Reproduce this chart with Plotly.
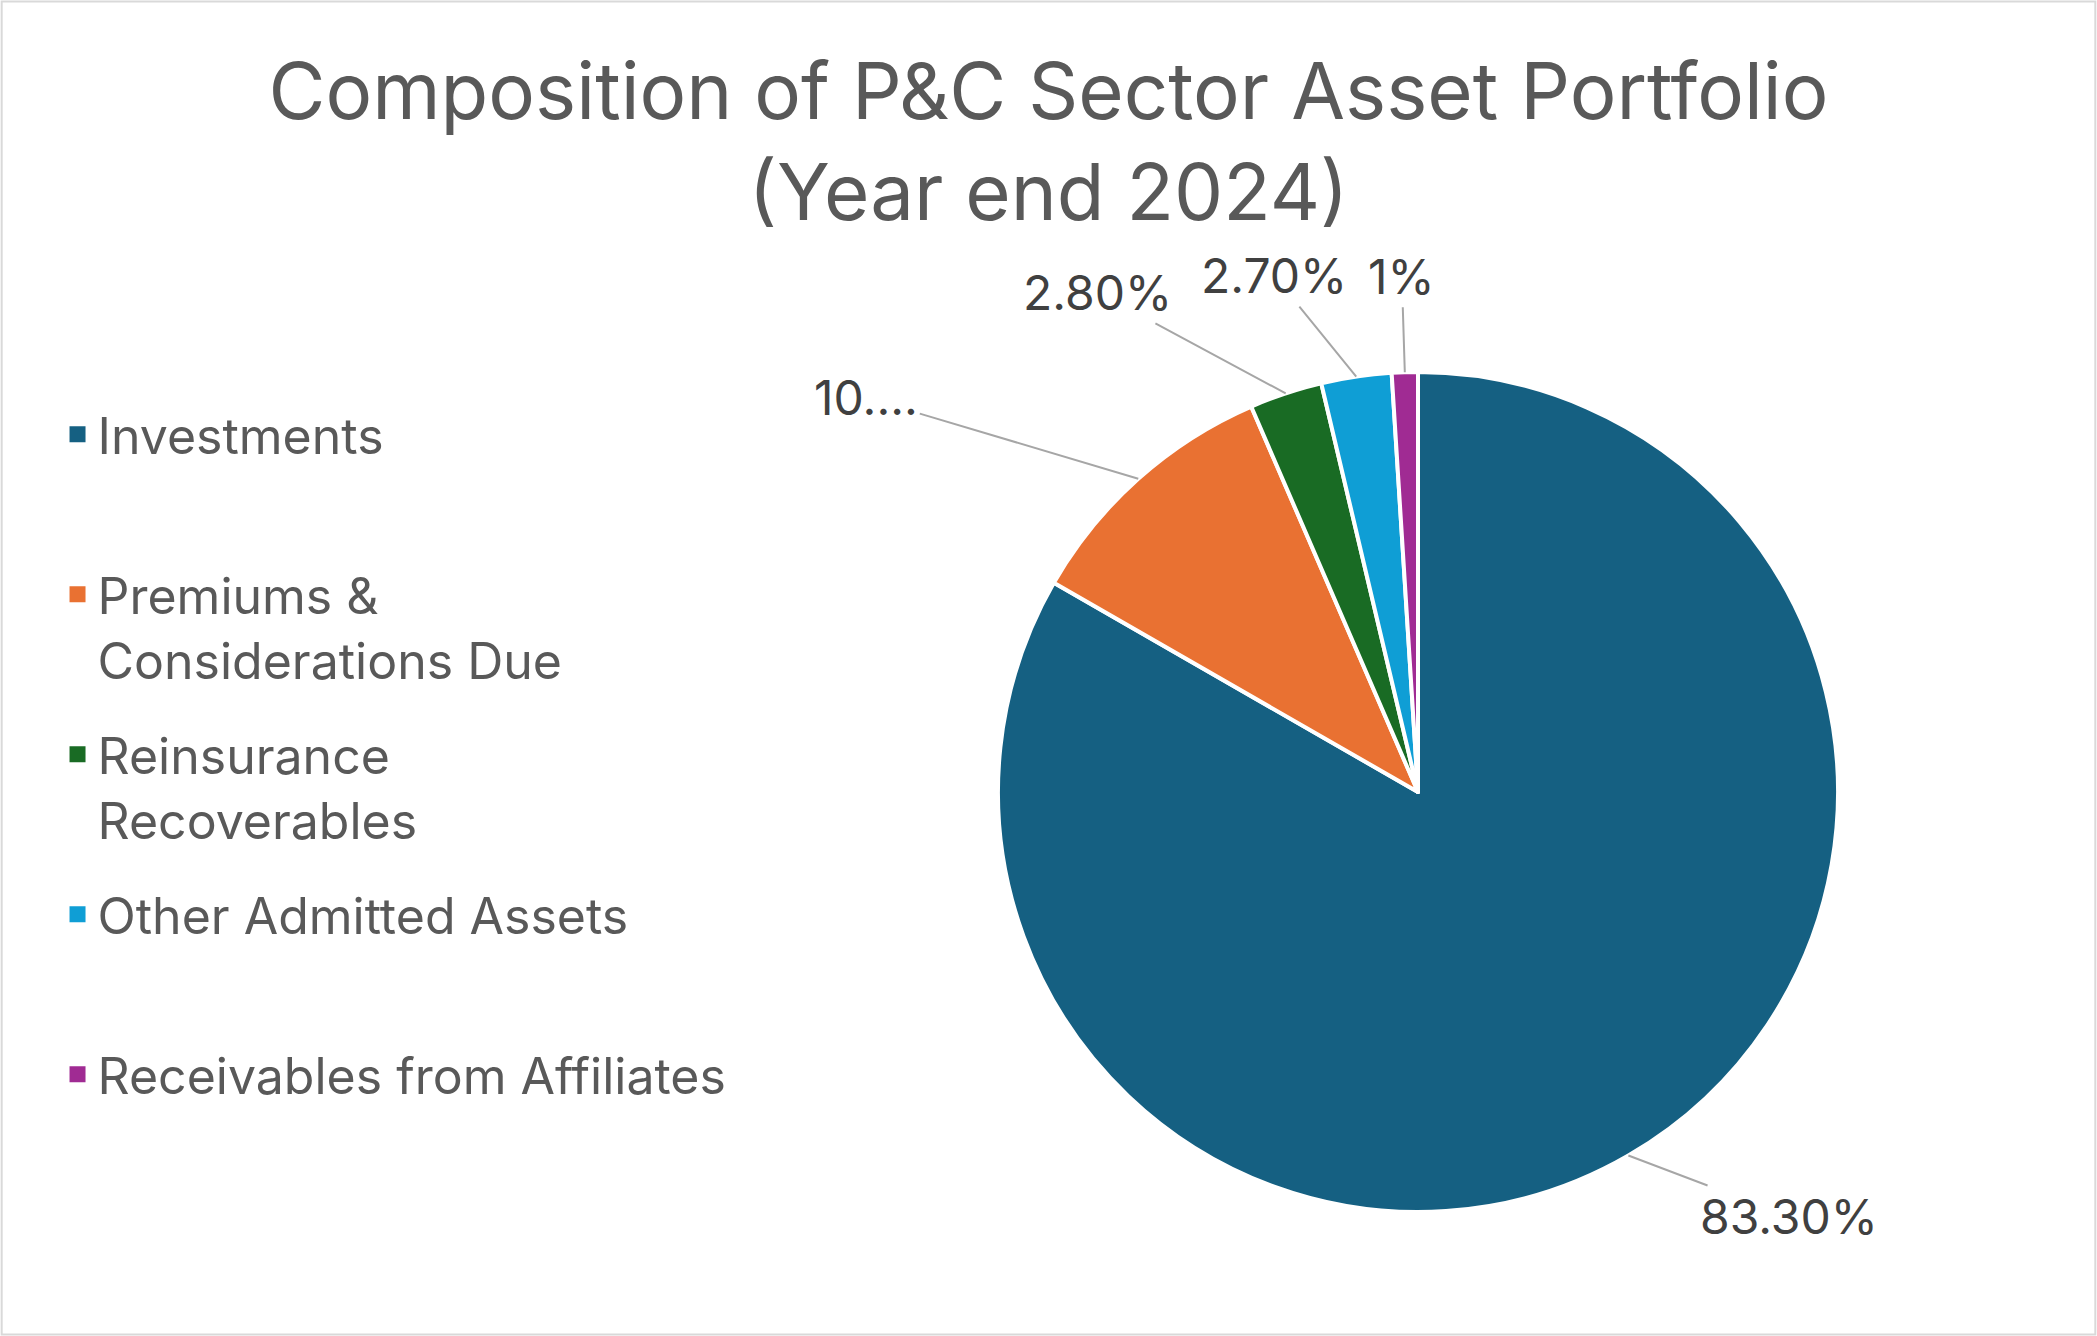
import math

import plotly.graph_objects as go

# slice data, clockwise from 12 o'clock
categories = [
    "Investments",
    "Premiums & Considerations Due",
    "Reinsurance Recoverables",
    "Other Admitted Assets",
    "Receivables from Affiliates",
]
legend_names = [
    "Investments",
    "Premiums &<br>Considerations Due",
    "Reinsurance<br>Recoverables",
    "Other Admitted Assets",
    "Receivables from Affiliates",
]
shares = [83.3, 10.2, 2.8, 2.7, 1.0]
label_text = ["83.30%", "10....", "2.80%", "2.70%", "1%"]

colors = ["#156082", "#E97132", "#196B24", "#0F9ED5", "#A02B93"]
# pixel offset of each data label from the slice edge it points at
label_offsets = [(161, 61), (-272, -81), (-188, -101), (-82, -101), (-3, -96)]

W, H = 2097, 1336
FONT = "Inter, Roboto, 'Liberation Sans', sans-serif"

# pie geometry (pixels): centre and radius
cx, cy, r = 1418, 792, 420
dom_x = [(cx - r) / W, (cx + r) / W]
dom_y = [1 - (cy + r) / H, 1 - (cy - r) / H]

fig = go.Figure()
fig.add_trace(
    go.Pie(
        labels=categories,
        values=shares,
        sort=False,
        direction="clockwise",
        rotation=0,
        marker=dict(colors=colors, line=dict(color="white", width=4)),
        textinfo="none",
        hovertemplate="%{label}: %{value}%<extra></extra>",
        domain=dict(x=dom_x, y=dom_y),
        showlegend=False,
    )
)

# legend entries (one group each so rows get an even gap);
# single-line names padded to two lines
for name, col in zip(legend_names, colors):
    fig.add_trace(
        go.Scatter(
            x=[None],
            y=[None],
            mode="markers",
            marker=dict(symbol="square", size=16, color=col),
            name=name if "<br>" in name else name + "<br>\u00a0",
            legendgroup=name,
            hoverinfo="skip",
        )
    )

# data labels with leader lines to the middle of each slice edge
total = sum(shares)
start = 0.0
for val, txt, (ax, ay) in zip(shares, label_text, label_offsets):
    mid = (start + val / 2) / total * 2 * math.pi
    start += val
    px_ = cx + r * math.sin(mid)
    py_ = cy - r * math.cos(mid)
    fig.add_annotation(
        x=px_ / W,
        y=1 - py_ / H,
        xref="paper",
        yref="paper",
        text=txt,
        showarrow=True,
        arrowhead=0,
        arrowwidth=2,
        arrowcolor="#A6A6A6",
        ax=ax,
        ay=ay,
        standoff=0,
        font=dict(family=FONT, size=48, color="#404040"),
    )

# chart area border
fig.add_shape(
    type="rect",
    xref="paper",
    yref="paper",
    x0=0.0008,
    x1=0.9992,
    y0=0.0012,
    y1=0.9988,
    line=dict(color="#D9D9D9", width=2),
)

fig.update_layout(
    width=W,
    height=H,
    margin=dict(l=0, r=0, t=0, b=0),
    paper_bgcolor="white",
    plot_bgcolor="white",
    font=dict(family=FONT, color="#595959"),
    title=dict(
        text="Composition of P&C Sector Asset Portfolio<br>(Year end 2024)",
        x=0.5,
        xanchor="center",
        y=1 - 119 / H,
        yanchor="middle",
        font=dict(family=FONT, size=78, color="#595959"),
    ),
    legend=dict(
        x=0.026 + 3 / W,
        y=0.702 + 3 / H,
        xanchor="left",
        yanchor="top",
        valign="top",
        traceorder="grouped",
        tracegroupgap=27,
        bgcolor="rgba(0,0,0,0)",
        font=dict(family=FONT, size=50, color="#595959"),
    ),
    xaxis=dict(visible=False),
    yaxis=dict(visible=False),
)

fig.write_html(
    "out.html",
    config={"displayModeBar": False},
    post_script="document.body.style.margin='0';document.body.style.overflow='hidden';",
)
